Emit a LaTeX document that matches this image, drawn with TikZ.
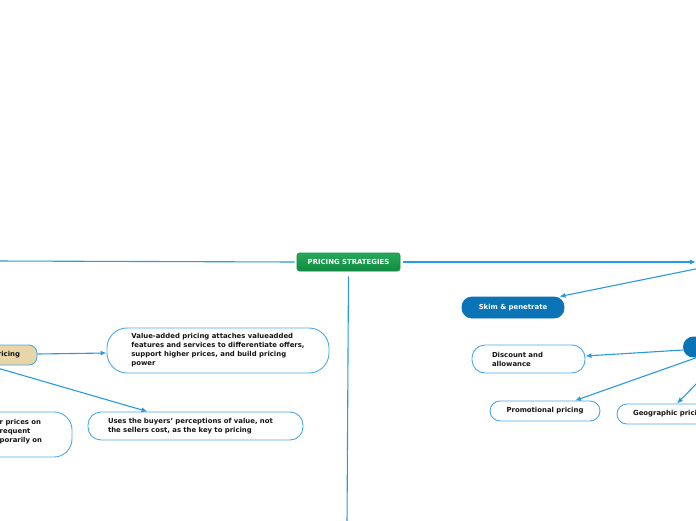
\documentclass[tikz,border=0pt]{standalone}
\usepackage{fontspec}
\setmainfont{DejaVu Sans}
\usetikzlibrary{arrows.meta}
\definecolor{lineblue}{HTML}{2A9AE0}
\definecolor{boxblue}{HTML}{0B74B6}
\definecolor{edgeblue}{HTML}{4AA8E8}
\definecolor{tanfill}{HTML}{E8D5A8}
\definecolor{greenA}{HTML}{27A95A}
\definecolor{greenB}{HTML}{0F8B42}
\definecolor{textdark}{HTML}{151515}
\begin{document}
\begin{tikzpicture}[x=1pt,y=-1pt,
  conn/.style={draw=lineblue, line width=1.1pt},
  arr/.style={conn, -{Latex[length=6pt,width=5pt]}},
  txt/.style={font=\fontsize{6.9}{9}\selectfont\bfseries},
  wbox/.style={draw=edgeblue, line width=0.9pt, fill=white, txt, text=textdark, inner sep=0pt},
  bbox/.style={draw=boxblue, line width=0.9pt, fill=boxblue, txt, text=white, inner sep=0pt, rounded corners=10pt},
  gbox/.style={draw=greenB, line width=0.6pt, top color=greenA, bottom color=greenB, txt, text=white, inner sep=0pt, rounded corners=2.5pt},
  tbox/.style={draw=edgeblue, line width=0.9pt, fill=tanfill, txt, text=textdark, inner ysep=0pt, rounded corners=8pt}
]
\useasboundingbox (0,0) rectangle (696,520);
\clip (0,0) rectangle (696,520);
\fill[white] (0,0) rectangle (696,520);

% nodes
\node[gbox, minimum width=103pt, minimum height=18pt] (ps) at (348.5,262) {PRICING STRATEGIES};
\node[bbox, minimum width=102pt, minimum height=21pt] (skim) at (513,307.5) {Skim \& penetrate};
\node[bbox, minimum width=80pt, minimum height=20pt, anchor=west] (bn) at (683,347) {};
\node[wbox, minimum width=113pt, minimum height=28pt, rounded corners=13pt, text width=73pt, align=left] (disc) at (528.5,359) {Discount and\\allowance};
\node[wbox, minimum width=110pt, minimum height=20pt, rounded corners=10pt] (promo) at (545,411) {Promotional pricing};
\node[wbox, minimum width=106pt, minimum height=20pt, rounded corners=10pt] (geo) at (670,414) {Geographic pricing};
\node[wbox, minimum width=222pt, minimum height=45pt, rounded corners=20pt, align=left] (va) at (218,350.5) {Value-added pricing attaches valueadded\\features and services to differentiate offers,\\support higher prices, and build pricing\\power};
\node[wbox, minimum width=215pt, minimum height=28pt, rounded corners=13pt, text width=175pt, align=left] (uses) at (195.5,426) {Uses the buyers' perceptions of value, not\\the sellers cost, as the key to pricing};
\node[tbox, minimum height=20pt, text width=63pt, inner xsep=17pt, align=right] (tan) at (-11.5,355) {ricing};
\node[wbox, minimum width=172pt, minimum height=45pt, rounded corners=18pt] (lb) at (-14,434.5) {};
\node[txt, text=textdark, anchor=north west, align=left, inner sep=0pt] (lbt) at (-0.5,419) {r prices on\\requent\\porarily on};

% free ends
\coordinate (Lend) at (-5,261);
\coordinate (Rend) at (696,262);
\coordinate (Bend) at (347,525);
\coordinate (Rsrc) at (698,268.5);
\coordinate (Gsrc) at (700,380);

% connectors
\draw[conn, shorten <=2pt] (ps.west) -- (Lend);
\draw[arr, shorten <=3pt] (ps.east) -- (Rend);
\draw[conn, shorten <=5pt] (ps.south) -- (Bend);
\draw[arr] (Rsrc) -- ([xshift=-5pt]skim.north east);
\draw[arr] ([yshift=-3pt]bn.west) -- ([yshift=3pt]disc.east);
\draw[arr] ([xshift=14pt]bn.south west) -- ([xshift=30pt]promo.north);
\draw[arr] (Gsrc) -- ([xshift=7pt]geo.north);
\draw[arr] ([yshift=1pt]tan.east) -- ([yshift=-2.5pt]va.west);
\draw[arr] (tan.south) -- ([xshift=-48pt]uses.north);
\end{tikzpicture}
\end{document}
